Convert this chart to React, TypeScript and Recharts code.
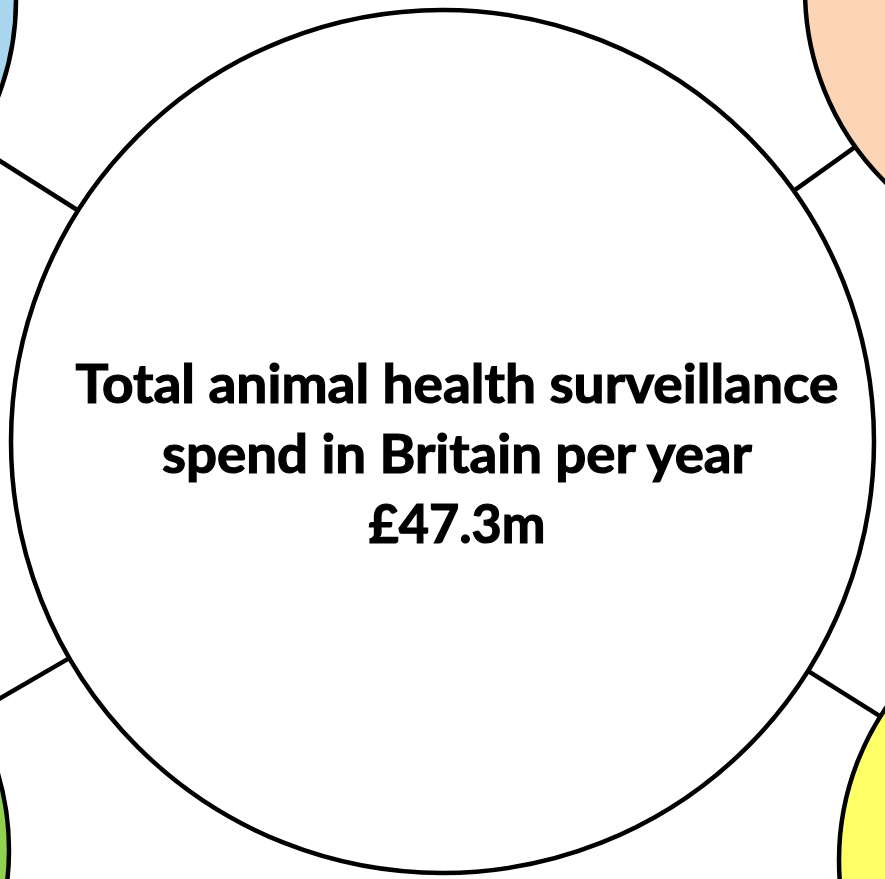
import { ReferenceLine, Scatter, ScatterChart, XAxis, YAxis } from "recharts"

const W = 885
const H = 879

// bubble names and fills
const names = ["total", "blue", "peach", "green", "yellow"]
const fills = ["#ffffff", "#a9d6ee", "#fbd5b5", "#92d050", "#ffff66"]

// centre text lines
const titleLines = ["Total animal health surveillance", "spend in Britain per year", "£47.3m"]

// layout (pixels) for each bubble
const layout: Record<string, { x: number; y: number; r: number }> = {
  total: { x: 442.5, y: 441.5, r: 431.5 },
  blue: { x: -254, y: 0, r: 270 },
  peach: { x: 1075, y: -10, r: 270 },
  green: { x: -261, y: 850, r: 270 },
  yellow: { x: 1109, y: 860, r: 270 },
}
const textLayout = [
  { y: 403, w: 763 },
  { y: 473, w: 590 },
  { y: 543, w: 177 },
]

const bubbles = names.map((n, i) => ({ name: n, fill: fills[i], ...layout[n] }))
const hub = bubbles[0]

const links = bubbles.slice(1).map((b) => {
  const dx = b.x - hub.x
  const dy = b.y - hub.y
  const d = Math.hypot(dx, dy)
  return [
    { x: hub.x + (hub.r * dx) / d, y: hub.y + (hub.r * dy) / d },
    { x: b.x - (b.r * dx) / d, y: b.y - (b.r * dy) / d },
  ]
})

const Bubble = (props: any) => {
  const { cx, cy, payload } = props
  return (
    <g>
      <circle cx={cx} cy={cy} r={payload.r} fill={payload.fill} stroke="#000" strokeWidth={4.5} />
      {payload.name === "total" && (
        <text
          fontFamily="Lato, 'Open Sans', sans-serif"
          fontWeight="bold"
          fontSize={53}
          fill="#000"
          stroke="#000"
          strokeWidth={1.2}
          textAnchor="middle"
        >
          {titleLines.map((t, i) => (
            <tspan
              key={i}
              x={cx + 14.5}
              y={textLayout[i].y}
              textLength={textLayout[i].w}
              lengthAdjust="spacingAndGlyphs"
            >
              {t}
            </tspan>
          ))}
        </text>
      )}
    </g>
  )
}

export default function App() {
  return (
    <div style={{ position: "absolute", left: 0, top: 0 }}>
      <ScatterChart width={W} height={H} margin={{ top: 0, right: 0, bottom: 0, left: 0 }}>
        <XAxis type="number" dataKey="x" domain={[0, W]} allowDataOverflow hide />
        <YAxis type="number" dataKey="y" domain={[0, H]} reversed allowDataOverflow hide />
        {links.map((seg, i) => (
          <ReferenceLine key={i} segment={seg} stroke="#000" strokeWidth={4.5} ifOverflow="visible" />
        ))}
        <Scatter data={bubbles} shape={Bubble} isAnimationActive={false} />
      </ScatterChart>
    </div>
  )
}
